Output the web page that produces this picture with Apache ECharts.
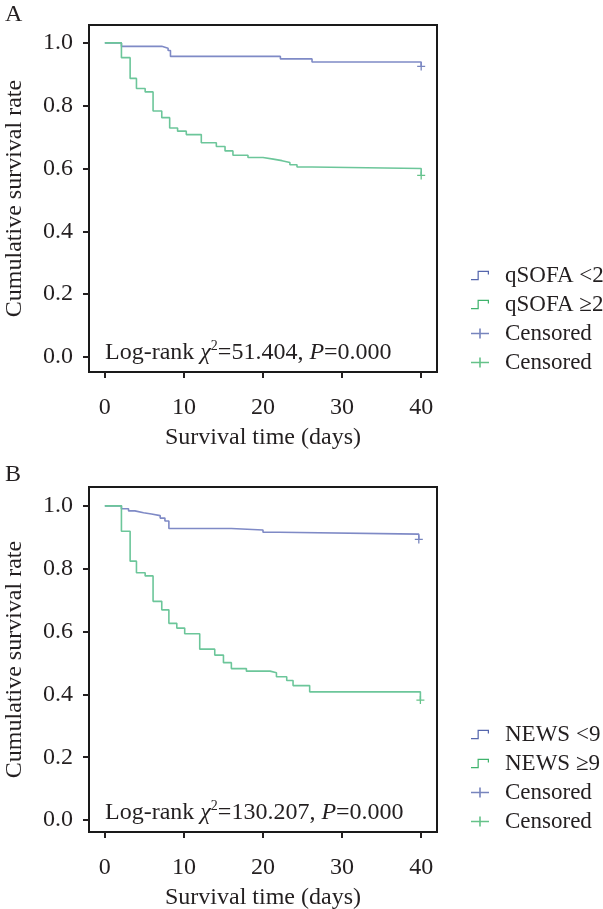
<!DOCTYPE html>
<html>
<head>
<meta charset="utf-8">
<script src="https://cdn.jsdelivr.net/npm/echarts@6/dist/echarts.min.js"></script>
<style>
html,body{margin:0;padding:0;background:#fff;}
#main{width:603px;height:909px;}
</style>
</head>
<body>
<div id="main"></div>
<script>
//A: qSOFA
var daysA_low=[0,2.1,7.2,8.0,8.3,22.2,26.2,40];
var survA_low=[1.0,0.989,0.983,0.976,0.957,0.949,0.939,0.925];
var daysA_high=[0,2.1,3.2,4.0,5.1,6.1,7.2,8.2,9.2,10.3,12.2,14.1,15.2,16.2,18.1,20.0,21.3,22.4,23.4,24.3,26.2,40];
var survA_high=[1.0,0.953,0.887,0.855,0.844,0.783,0.762,0.729,0.719,0.708,0.682,0.670,0.656,0.642,0.635,0.630,0.625,0.619,0.612,0.605,0.600,0.578];
var censA_low=[[40,0.925]];
var censA_high=[[40,0.578]];
//B: NEWS
var daysB_low=[0,2.1,3.0,3.8,4.9,5.9,7.0,7.6,8.1,16.0,20.0,22.1,39.7];
var survB_low=[1.0,0.991,0.984,0.978,0.974,0.969,0.961,0.952,0.928,0.923,0.916,0.910,0.893];
var daysB_high=[0,2.1,3.2,4.0,5.1,6.1,7.2,8.1,9.1,10.1,12.0,13.9,15.0,16.0,17.9,20.9,21.7,23.0,23.8,25.9,39.9];
var survB_high=[1.0,0.919,0.824,0.787,0.777,0.696,0.669,0.626,0.611,0.593,0.544,0.525,0.501,0.482,0.474,0.469,0.456,0.444,0.428,0.408,0.382];
var censB_low=[[39.7,0.893]];
var censB_high=[[39.9,0.382]];

var xTicks=[0,10,20,30,40];
var yTicks=[0,0.2,0.4,0.6,0.8,1.0];

var FONT='"Liberation Serif", "DejaVu Serif", serif';
var FS=24;
var INK='#231f20';
var BLUE='#7f8ac6', GREEN='#6cc69a';
var BLUE_C='#5566ad', GREEN_C='#3fb36c';
var STEP='path://M0,8.6H6.4V0.4H17.6V4H16.4V1.6H7.6V9.8H0Z';
var CROSS='path://M8.2,0H9.8V4.2H18V5.8H9.8V10H8.2V5.8H0V4.2H8.2Z';
var PLUS='path://M4.2,0H5.8V4.2H10V5.8H5.8V10H4.2V5.8H0V4.2H4.2Z';

function pairs(xs,ys){
	var out=[];
	for(var i=0;i<xs.length;i++){out.push([xs[i],ys[i]]);}
	return out;
}
function xAx(idx){
	return {
		gridIndex:idx,type:'value',min:-2,max:42,
		name:'Survival time (days)',nameLocation:'middle',nameGap:54,
		nameTextStyle:{fontFamily:FONT,fontSize:FS,color:INK},
		axisLine:{show:false,onZero:false},
		axisTick:{show:true,inside:false,length:6,customValues:xTicks,lineStyle:{color:INK,width:2}},
		axisLabel:{customValues:xTicks,margin:24,fontFamily:FONT,fontSize:FS,color:INK},
		splitLine:{show:false}
	};
}
function yAx(idx,min,max){
	return {
		gridIndex:idx,type:'value',min:min,max:max,
		name:'Cumulative survival rate',nameLocation:'middle',nameGap:62,
		nameTextStyle:{fontFamily:FONT,fontSize:FS,color:INK},
		axisLine:{show:false,onZero:false},
		axisTick:{show:true,inside:false,length:6,customValues:yTicks,lineStyle:{color:INK,width:2}},
		axisLabel:{customValues:yTicks,margin:16,fontFamily:FONT,fontSize:FS,color:INK,
			formatter:function(v){return v.toFixed(1);}},
		splitLine:{show:false}
	};
}
function km(name,idx,data,color){
	return {name:name,type:'line',xAxisIndex:idx,yAxisIndex:idx,data:data,step:'end',
		showSymbol:false,symbol:'none',lineStyle:{color:color,width:1.6},itemStyle:{color:color},
		animation:false,silent:true};
}
function cens(name,idx,data,color){
	return {name:name,type:'scatter',xAxisIndex:idx,yAxisIndex:idx,data:data,
		symbol:PLUS,symbolSize:8,itemStyle:{color:color},animation:false,silent:true};
}
function lg(top,names){
	return {
		orient:'vertical',left:466,top:top,itemWidth:18,itemHeight:10,itemGap:6,
		selectedMode:false,
		textStyle:{fontFamily:FONT,fontSize:23,color:INK,padding:[0,0,0,11]},
		formatter:function(n){return n.indexOf('Censored')===0?'Censored':n;},
		data:[
			{name:names[0],icon:STEP,itemStyle:{color:BLUE_C}},
			{name:names[1],icon:STEP,itemStyle:{color:GREEN_C}},
			{name:names[2],icon:CROSS,itemStyle:{color:BLUE_C}},
			{name:names[3],icon:CROSS,itemStyle:{color:GREEN_C}}
		]
	};
}
var rich={
	n:{fontFamily:FONT,fontSize:FS,fontWeight:'normal',color:INK,lineHeight:28},
	i:{fontFamily:FONT,fontSize:FS,fontWeight:'normal',color:INK,fontStyle:'italic',lineHeight:28},
	s:{fontFamily:FONT,fontSize:14,fontWeight:'normal',color:INK,lineHeight:16,verticalAlign:'top'}
};

var option={
	backgroundColor:'#fff',
	animation:false,
	title:[
		{text:'A',left:0,top:-2,textStyle:{fontFamily:FONT,fontSize:FS,fontWeight:'normal',color:INK}},
		{text:'B',left:0,top:458,textStyle:{fontFamily:FONT,fontSize:FS,fontWeight:'normal',color:INK}},
		{text:'{n|Log-rank }{i|χ}{s|2}{n|=51.404, }{i|P}{n|=0.000}',left:100,top:334,
			textStyle:{fontWeight:'normal',rich:rich}},
		{text:'{n|Log-rank }{i|χ}{s|2}{n|=130.207, }{i|P}{n|=0.000}',left:100,top:794,
			textStyle:{fontWeight:'normal',rich:rich}}
	],
	legend:[
		lg(259,['qSOFA <2','qSOFA ≥2','Censored A1','Censored A2']),
		lg(718,['NEWS <9','NEWS ≥9','Censored B1','Censored B2'])
	],
	grid:[
		{left:89,top:25,width:348,height:347,outerBoundsMode:'none',show:true,borderColor:'#1a1a1a',borderWidth:2,backgroundColor:'#fff'},
		{left:89,top:487,width:348,height:345,outerBoundsMode:'none',show:true,borderColor:'#1a1a1a',borderWidth:2,backgroundColor:'#fff'}
	],
	xAxis:[xAx(0),xAx(1)],
	yAxis:[yAx(0,-0.048,1.057),yAx(1,-0.038,1.06)],
	series:[
		km('qSOFA <2',0,pairs(daysA_low,survA_low),BLUE),
		km('qSOFA ≥2',0,pairs(daysA_high,survA_high),GREEN),
		cens('Censored A1',0,censA_low,BLUE_C),
		cens('Censored A2',0,censA_high,GREEN_C),
		km('NEWS <9',1,pairs(daysB_low,survB_low),BLUE),
		km('NEWS ≥9',1,pairs(daysB_high,survB_high),GREEN),
		cens('Censored B1',1,censB_low,BLUE_C),
		cens('Censored B2',1,censB_high,GREEN_C)
	]
};
var chart=echarts.init(document.getElementById('main'),null,{renderer:'canvas'});
chart.setOption(option);
</script>
</body>
</html>
